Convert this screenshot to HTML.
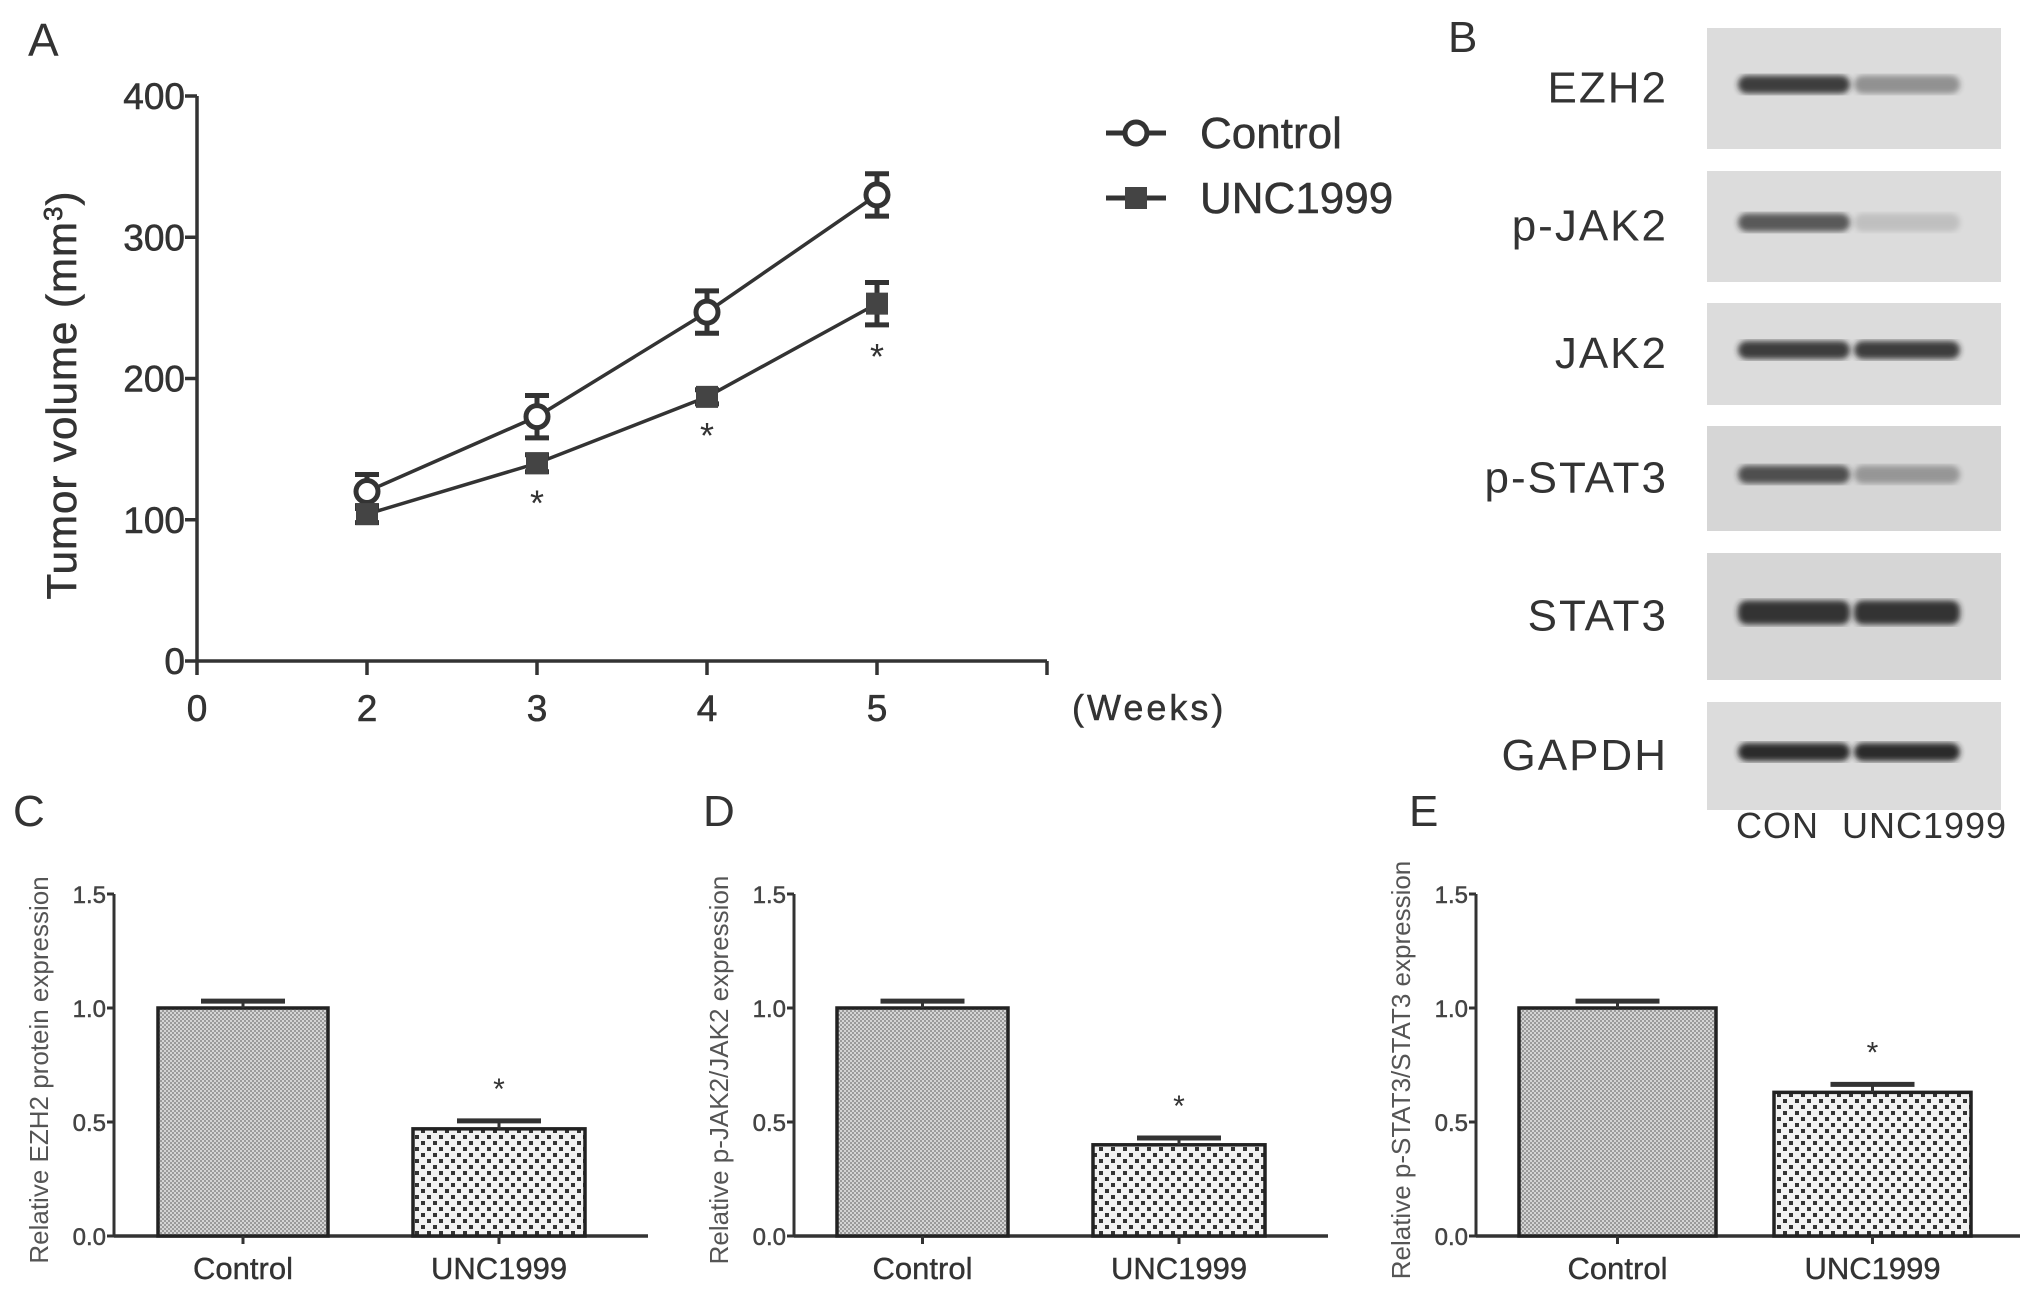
<!DOCTYPE html>
<html><head><meta charset="utf-8">
<style>
html,body{margin:0;padding:0;background:#fff;}
svg{display:block;font-family:"Liberation Sans",sans-serif;}
</style></head>
<body>
<svg id="fig" width="2031" height="1292" viewBox="0 0 2031 1292" xmlns="http://www.w3.org/2000/svg">
<defs>
<pattern id="fine" width="4" height="4" patternUnits="userSpaceOnUse">
<rect width="4" height="4" fill="#d4d4d4"/><rect width="2" height="2" fill="#9a9a9a"/><rect x="2" y="2" width="2" height="2" fill="#9a9a9a"/>
</pattern>
<pattern id="coarse" width="12" height="12" patternUnits="userSpaceOnUse">
<rect width="12" height="12" fill="#f2f2f2"/><rect x="1" y="1" width="4" height="4" fill="#333"/><rect x="7" y="7" width="4" height="4" fill="#333"/>
</pattern>
<filter id="blur"><feGaussianBlur stdDeviation="3"/></filter>
</defs>
<g id="panelA"></g>
<g id="panelB"></g>
<g id="panelC"></g>
<g id="panelD"></g>
<g id="panelE"></g>
</svg>
<script>
// Panel A data
const weekLabels = ["0", "2", "3", "4", "5"];
const weeks = [2, 3, 4, 5];
const controlMeans = [120, 173, 247, 330];
const controlErr = [12, 15, 15, 15];
const uncMeans = [104, 140, 187, 253];
const uncErr = [6, 6, 5, 15];
const sigWeeks = [3, 4, 5];
const yTicksA = [0, 100, 200, 300, 400];

// Bar panels data
const barCategories = ["Control", "UNC1999"];
const ezh2Values = [1.0, 0.47];
const ezh2Err = [0.03, 0.035];
const pjak2Values = [1.0, 0.40];
const pjak2Err = [0.03, 0.03];
const pstat3Values = [1.0, 0.63];
const pstat3Err = [0.03, 0.035];
const yTicksBar = [0.0, 0.5, 1.0, 1.5];

// Blot data
const blotLabels = ["EZH2", "p-JAK2", "JAK2", "p-STAT3", "STAT3", "GAPDH"];
const blotCon = [0.85, 0.7, 0.85, 0.75, 0.9, 0.95];
const blotUnc = [0.4, 0.15, 0.85, 0.35, 0.9, 0.95];

const NS = "http://www.w3.org/2000/svg";
function mk(parent, tag, attrs, text) {
  const e = document.createElementNS(NS, tag);
  for (const k in attrs) e.setAttribute(k, attrs[k]);
  if (text !== undefined) e.textContent = text;
  parent.appendChild(e);
  return e;
}
const C = "#333";

// ---------- Panel A ----------
(function () {
  const g = document.getElementById("panelA");
  const x0 = 197, y0 = 661, yTop = 96, step = 170;
  const xw = w => (w === 0 ? x0 : x0 + (w - 1) * step);
  const yv = v => y0 - (v / 400) * (y0 - yTop);
  let t = mk(g, "text", { x: 28, y: 56, "font-size": 46, fill: C }, "A");
  
  
  let ax = mk(g, "line", { x1: x0, y1: yTop, x2: x0, y2: y0, stroke: C, "stroke-width": 3.5 });
  
  
  let bx = mk(g, "line", { x1: x0, y1: y0, x2: 1047, y2: y0, stroke: C, "stroke-width": 3.5 });
  
  
  yTicksA.forEach(v => {
    mk(g, "line", { x1: x0 - 12, y1: yv(v), x2: x0, y2: yv(v), stroke: C, "stroke-width": 3.5 });
    let tl = mk(g, "text", { x: x0 - 12, y: yv(v) + 13, "font-size": 37, fill: C, "text-anchor": "end", stroke: C, "stroke-width": 0.6 }, String(v));
    
    
  });
  const tickWeeks = [0].concat(weeks);
  tickWeeks.forEach((w, i) => {
    mk(g, "line", { x1: xw(w), y1: y0, x2: xw(w), y2: y0 + 14, stroke: C, "stroke-width": 3.5 });
    let tl = mk(g, "text", { x: xw(w), y: y0 + 60, "font-size": 37, fill: C, "text-anchor": "middle", stroke: C, "stroke-width": 0.6 }, weekLabels[i]);
    
    
  });
  mk(g, "line", { x1: 1047, y1: y0, x2: 1047, y2: y0 + 14, stroke: C, "stroke-width": 3.5 });
  let wl = mk(g, "text", { x: 1072, y: 720, "font-size": 36, fill: C, "letter-spacing": 3, stroke: C, "stroke-width": 0.5 }, "(Weeks)");
  
  
  let yl = mk(g, "text", { x: 0, y: 0, "font-size": 42, fill: C, "text-anchor": "middle", "letter-spacing": 1, stroke: C, "stroke-width": 0.6, transform: "translate(76,395) rotate(-90)" });
  
  
  yl.appendChild(document.createTextNode("Tumor volume (mm"));
  mk(yl, "tspan", { dy: -14, "font-size": 26 }, "3");
  mk(yl, "tspan", { dy: 14 }, ")");

  function series(means, errs, name, marker) {
    const sg = mk(g, "g", {});
    
    
    const pts = weeks.map((w, i) => xw(w) + "," + yv(means[i])).join(" ");
    mk(sg, "polyline", { points: pts, fill: "none", stroke: C, "stroke-width": 3.5 });
    weeks.forEach((w, i) => {
      const x = xw(w), y1 = yv(means[i] + errs[i]), y2 = yv(means[i] - errs[i]);
      mk(sg, "line", { x1: x, y1: y1, x2: x, y2: y2, stroke: C, "stroke-width": 5 });
      mk(sg, "line", { x1: x - 12, y1: y1, x2: x + 12, y2: y1, stroke: C, "stroke-width": 5 });
      mk(sg, "line", { x1: x - 12, y1: y2, x2: x + 12, y2: y2, stroke: C, "stroke-width": 5 });
      let m;
      if (marker === "circle") m = mk(sg, "circle", { cx: x, cy: yv(means[i]), r: 11, fill: "#fff", stroke: C, "stroke-width": 5 });
      else m = mk(sg, "rect", { x: x - 11, y: yv(means[i]) - 11, width: 22, height: 22, fill: "#444" });
      
      
    });
  }
  series(controlMeans, controlErr, "control", "circle");
  series(uncMeans, uncErr, "unc1999", "square");
  sigWeeks.forEach(w => {
    const i = weeks.indexOf(w);
    let s = mk(g, "text", { x: xw(w), y: yv(uncMeans[i] - uncErr[i]) + 44, "font-size": 36, fill: C, "text-anchor": "middle" }, "*");
    
    
  });
  // legend
  const lg = mk(g, "g", {});
  
  
  mk(lg, "line", { x1: 1106, y1: 133, x2: 1166, y2: 133, stroke: C, "stroke-width": 5 });
  mk(lg, "circle", { cx: 1136, cy: 133, r: 11, fill: "#fff", stroke: C, "stroke-width": 5 });
  let l1 = mk(lg, "text", { x: 1200, y: 148, "font-size": 44, fill: C, stroke: C, "stroke-width": 0.5 }, "Control");
  
  
  mk(lg, "line", { x1: 1106, y1: 198, x2: 1166, y2: 198, stroke: C, "stroke-width": 5 });
  mk(lg, "rect", { x: 1125, y: 187, width: 22, height: 22, fill: "#444" });
  let l2 = mk(lg, "text", { x: 1200, y: 213, "font-size": 44, fill: C, stroke: C, "stroke-width": 0.5 }, "UNC1999");
  
  
})();

// ---------- Panel B ----------
(function () {
  const g = document.getElementById("panelB");
  let t = mk(g, "text", { x: 1448, y: 52, "font-size": 44, fill: C }, "B");
  
  
  const rows = [[28, 149], [171, 282], [303, 405], [426, 531], [553, 680], [702, 810]];
  blotLabels.forEach((lab, i) => {
    const [ya, yb] = rows[i];
    const bg = mk(g, "rect", { x: 1707, y: ya, width: 294, height: yb - ya, fill: i === 4 || i === 3 ? "#d6d6d6" : "#dcdcdc" });
    
    
    const cy = (ya + yb) / 2 - 4;
    const h = i === 4 ? 24 : 18;
    mk(g, "rect", { x: 1738, y: cy - h / 2, width: 112, height: h, rx: 9, fill: "#222", opacity: blotCon[i], filter: "url(#blur)" });
    mk(g, "rect", { x: 1854, y: cy - h / 2, width: 106, height: h, rx: 9, fill: "#222", opacity: blotUnc[i], filter: "url(#blur)" });
    let tl = mk(g, "text", { x: 1668, y: cy + 18, "font-size": 44, fill: C, "text-anchor": "end", "letter-spacing": 2 }, lab);
    
    
  });
  let c1 = mk(g, "text", { x: 1736, y: 838, "font-size": 36, fill: C, "letter-spacing": 1 }, "CON");
  
  
  let c2 = mk(g, "text", { x: 1842, y: 838, "font-size": 36, fill: C, "letter-spacing": 1 }, "UNC1999");
  
  
})();

// ---------- Bar panels ----------
function barPanel(id, letter, lx, axX, bars, axEnd, vals, errs, ylab) {
  const g = document.getElementById(id);
  const y0 = 1236, yTop = 894;
  const yv = v => y0 - (v / 1.5) * (y0 - yTop);
  let t = mk(g, "text", { x: lx, y: 826, "font-size": 44, fill: C }, letter);
  
  
  let ya = mk(g, "line", { x1: axX, y1: yTop, x2: axX, y2: y0, stroke: C, "stroke-width": 3 });
  
  
  let xa = mk(g, "line", { x1: axX, y1: y0, x2: axEnd, y2: y0, stroke: C, "stroke-width": 3.5 });
  
  
  yTicksBar.forEach(v => {
    mk(g, "line", { x1: axX - 7, y1: yv(v), x2: axX, y2: yv(v), stroke: C, "stroke-width": 3 });
    let tl = mk(g, "text", { x: axX - 8, y: yv(v) + 9, "font-size": 24, fill: "#444", "text-anchor": "end", stroke: "#444", "stroke-width": 0.5 }, v.toFixed(1));
    
    
  });
  let yl = mk(g, "text", { x: 0, y: 0, "font-size": 26, fill: "#555", "text-anchor": "middle", transform: "translate(" + (axX - 66) + ",1070) rotate(-90)" }, ylab);
  
  
  barCategories.forEach((cat, i) => {
    const [xa1, xb1] = bars[i];
    const cx = (xa1 + xb1) / 2;
    const b = mk(g, "rect", { x: xa1, y: yv(vals[i]), width: xb1 - xa1, height: y0 - yv(vals[i]), fill: i === 0 ? "url(#fine)" : "url(#coarse)", stroke: "#222", "stroke-width": 3.5 });
    
    
    const ye = yv(vals[i] + errs[i]);
    mk(g, "line", { x1: cx, y1: ye, x2: cx, y2: yv(vals[i]), stroke: C, "stroke-width": 3 });
    mk(g, "line", { x1: cx - 42, y1: ye, x2: cx + 42, y2: ye, stroke: C, "stroke-width": 5 });
    mk(g, "line", { x1: cx, y1: y0, x2: cx, y2: y0 + 8, stroke: C, "stroke-width": 3 });
    let cl = mk(g, "text", { x: cx, y: 1279, "font-size": 31, fill: C, "text-anchor": "middle", stroke: C, "stroke-width": 0.4 }, cat);
    
    
  });
  const cx2 = (bars[1][0] + bars[1][1]) / 2;
  let s = mk(g, "text", { x: cx2, y: yv(vals[1] + errs[1]) - 22, "font-size": 30, fill: C, "text-anchor": "middle" }, "*");
  
  
}
barPanel("panelC", "C", 13, 114, [[158, 328], [413, 585]], 648, ezh2Values, ezh2Err, "Relative EZH2 protein expression");
barPanel("panelD", "D", 703, 794, [[837, 1008], [1093, 1265]], 1328, pjak2Values, pjak2Err, "Relative p-JAK2/JAK2 expression");
barPanel("panelE", "E", 1409, 1476, [[1519, 1716], [1774, 1971]], 2020, pstat3Values, pstat3Err, "Relative p-STAT3/STAT3 expression");
</script>
</body></html>
